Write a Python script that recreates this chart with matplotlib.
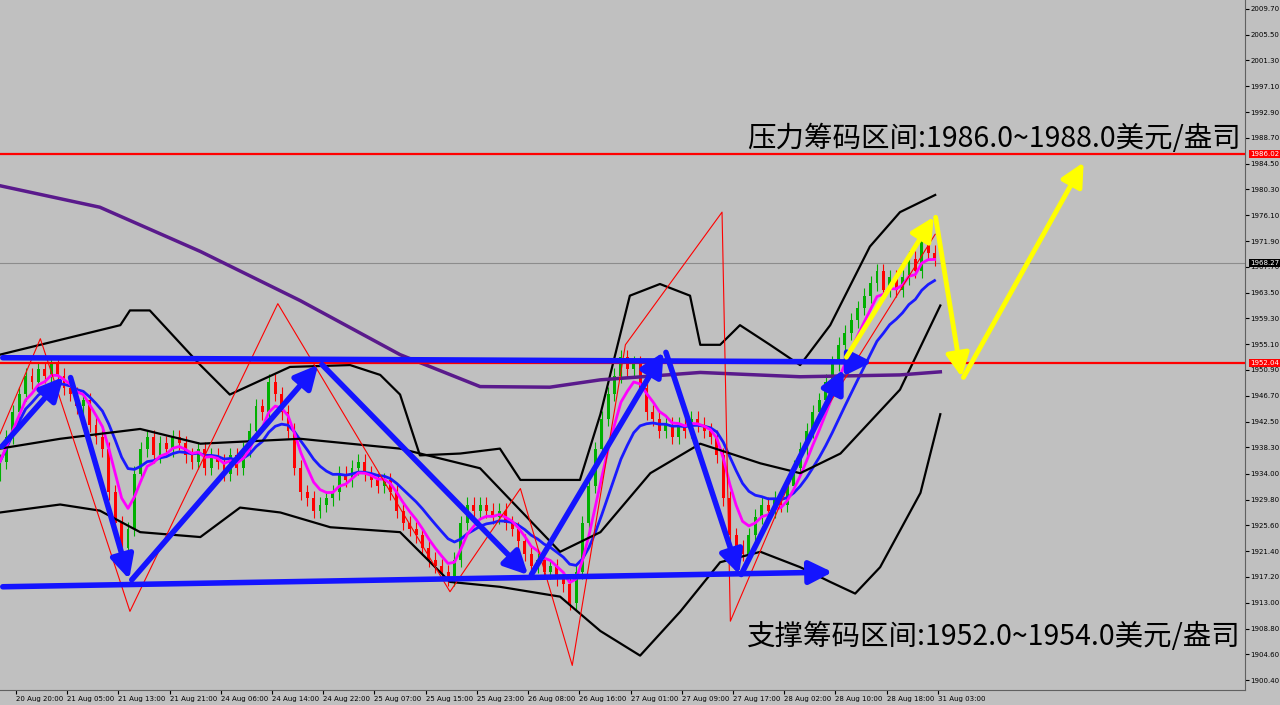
import matplotlib
matplotlib.use("Agg")
import matplotlib.pyplot as plt
import numpy as np
import pandas as pd

plt.rcParams['font.family'] = ['Noto Sans CJK SC', 'DejaVu Sans']

# hourly closes, one per bar
closes = [1936, 1940, 1944, 1947, 1950, 1949, 1951, 1950, 1952, 1950,
          1948, 1947, 1945, 1946, 1942, 1940, 1938, 1931, 1926, 1922,
          1925, 1934, 1938, 1940, 1937, 1939, 1938, 1940, 1939, 1937,
          1936, 1938, 1935, 1937, 1936, 1934, 1937, 1935, 1938, 1941,
          1945, 1944, 1949, 1947, 1944, 1941, 1935, 1931, 1930, 1928,
          1929, 1930, 1931, 1934, 1933, 1935, 1936, 1934, 1933, 1932,
          1933, 1931, 1928, 1926, 1925, 1924, 1922, 1920, 1919, 1918,
          1917, 1920, 1926, 1929, 1928, 1929, 1928, 1927, 1928, 1926,
          1925, 1923, 1921, 1919, 1920, 1918, 1919, 1917, 1916, 1913,
          1918, 1926, 1932, 1938, 1943, 1947, 1950, 1953, 1951, 1952,
          1948, 1944, 1943, 1941, 1942, 1940, 1942, 1941, 1943, 1942,
          1941, 1940, 1937, 1930, 1924, 1922, 1921, 1924, 1927, 1929,
          1928, 1930, 1929, 1932, 1935, 1938, 1941, 1944, 1946, 1949,
          1952, 1955, 1957, 1959, 1961, 1963, 1965, 1967, 1964, 1966,
          1964, 1966, 1969, 1967, 1972, 1970, 1969]
first_open = 1934

# bollinger-like envelopes (bar, price)
upper_x = [0, 9.4, 18.8, 20.3, 23.4, 31.3, 35.9, 45.3, 54.7, 59.4, 62.5, 65.6, 71.9, 78.1, 81.3, 90.6, 93.8, 98.4, 103.1, 107.8, 109.4, 112.5, 115.6, 120.3, 125, 129.7, 135.9, 140.6, 146.1]
upper_y = [1953.4, 1955.8, 1958.2, 1960.6, 1960.6, 1951.7, 1946.9, 1951.4, 1951.7, 1950.1, 1946.9, 1937.0, 1937.3, 1938.1, 1933.0, 1933.0, 1943.7, 1963.0, 1964.9, 1963.0, 1955.0, 1955.0, 1958.2, 1955.0, 1951.7, 1958.2, 1971.0, 1976.6, 1979.4]
mid_x = [0, 9.4, 21.9, 31.3, 46.9, 62.5, 75, 87.5, 93.8, 101.6, 109.4, 118.8, 125, 131.3, 140.6, 146.9]
mid_y = [1938.1, 1939.7, 1941.3, 1938.9, 1939.7, 1938.1, 1934.9, 1921.3, 1924.5, 1934.1, 1938.9, 1935.7, 1934.1, 1937.3, 1947.7, 1961.4]
lower_x = [0, 9.4, 15.6, 21.9, 31.3, 37.5, 43.8, 51.6, 62.5, 70.3, 78.1, 87.5, 93.8, 100, 106.3, 112.5, 118.8, 125, 129.7, 133.6, 137.5, 143.8, 146.9]
lower_y = [1927.7, 1929.0, 1928.0, 1924.5, 1923.7, 1928.5, 1927.7, 1925.3, 1924.5, 1916.4, 1915.6, 1914.0, 1908.4, 1904.4, 1911.6, 1919.6, 1921.3, 1918.8, 1916.4, 1914.5, 1918.8, 1930.9, 1943.7]
ma200_x = [0, 15.6, 31.3, 46.9, 62.5, 75, 85.9, 93.8, 109.4, 125, 140.6, 146.9]
ma200_y = [1980.9, 1977.4, 1970.2, 1962.2, 1953.4, 1948.2, 1948.1, 1949.3, 1950.5, 1949.8, 1950.1, 1950.6]

# thin red zigzag
zz_x = [0, 6.3, 20.3, 43.4, 70.3, 81.3, 89.4, 97.7, 112.8, 114.1, 126.6, 146.1]
zz_y = [1940.5, 1956.0, 1911.6, 1961.7, 1914.8, 1931.6, 1902.8, 1955.0, 1976.6, 1910.0, 1940.5, 1973.0]

# drawn arrows (bar, price)
blue_arrows = [((0, 1952.9), (136.7, 1952.2)),
               ((0, 1915.6), (130.5, 1918.0)),
               ((0, 1938.1), (10.2, 1950.1)),
               ((10.9, 1950.1), (20.3, 1916.4)),
               ((20.3, 1916.4), (50.0, 1952.1)),
               ((50.0, 1952.1), (82.8, 1917.2)),
               ((82.8, 1917.2), (103.9, 1954.2)),
               ((103.9, 1954.2), (115.6, 1917.2)),
               ((115.6, 1917.2), (132.0, 1951.4))]
yellow_arrows = [((132.0, 1952.6), (146.1, 1976.2)),
                 ((146.1, 1976.2), (150.3, 1949.3)),
                 ((150.3, 1949.3), (169.5, 1985.1))]

resistance = 1986.02
support = 1952.04
last_price = 1968.27
y_ticks = [2009.70, 2005.50, 2001.30, 1997.10, 1992.90, 1988.70, 1984.50, 1980.30,
           1976.10, 1971.90, 1967.70, 1963.50, 1959.30, 1955.10, 1950.90, 1946.70,
           1942.50, 1938.30, 1934.00, 1929.80, 1925.60, 1921.40, 1917.20, 1913.00,
           1908.80, 1904.60, 1900.40]
x_labels = ["20 Aug 20:00", "21 Aug 05:00", "21 Aug 13:00", "21 Aug 21:00", "24 Aug 06:00",
            "24 Aug 14:00", "24 Aug 22:00", "25 Aug 07:00", "25 Aug 15:00", "25 Aug 23:00",
            "26 Aug 08:00", "26 Aug 16:00", "27 Aug 01:00", "27 Aug 09:00", "27 Aug 17:00",
            "28 Aug 02:00", "28 Aug 10:00", "28 Aug 18:00", "31 Aug 03:00"]

bg = "#c0c0c0"
fig = plt.figure(figsize=(12.8, 7.05), dpi=100, facecolor=bg)
ax = fig.add_axes([0, 15 / 705, 1245 / 1280, 690 / 705], facecolor=bg)
ax.set_xlim(0, 194.5)
ax.set_ylim(1900.4 - 1.6, 2011.14)

c = np.array(closes, dtype=float)
o = np.concatenate([[first_open], c[:-1]])
idx = np.arange(len(c))
hi = np.maximum(o, c) + 1.2
lo = np.minimum(o, c) - 1.2
for i in idx:
    col = "#00b000" if c[i] >= o[i] else "#ff0000"
    ax.vlines(i, lo[i], hi[i], color=col, lw=0.8, zorder=2)
    ax.bar(i, max(abs(c[i] - o[i]), 0.3), bottom=min(o[i], c[i]), width=0.45,
           color=col, zorder=2)

s = pd.Series(c)
ax.plot(idx, s.ewm(span=12).mean(), color="#1a1aff", lw=2, zorder=3)
ax.plot(idx, s.ewm(span=5).mean(), color="#ff00ff", lw=2, zorder=3)

for xs, ys in [(upper_x, upper_y), (mid_x, mid_y), (lower_x, lower_y)]:
    ax.plot(xs, ys, color="black", lw=1.6, zorder=3)
ax.plot(ma200_x, ma200_y, color="#5a1a8c", lw=2.5, zorder=3)
ax.plot(zz_x, zz_y, color="#ff0000", lw=0.8, zorder=3)

ax.axhline(resistance, color="#ff0000", lw=1.6, zorder=4)
ax.axhline(support, color="#ff0000", lw=1.6, zorder=4)
ax.axhline(last_price, color="#8c8c8c", lw=0.8, zorder=1)

for (x0, y0), (x1, y1) in blue_arrows:
    ax.annotate("", xy=(x1, y1), xytext=(x0, y0), zorder=5,
                arrowprops=dict(arrowstyle="-|>,head_length=1.4,head_width=0.7",
                                color="#1414ff", lw=4))
for (x0, y0), (x1, y1) in yellow_arrows:
    ax.annotate("", xy=(x1, y1), xytext=(x0, y0), zorder=5,
                arrowprops=dict(arrowstyle="-|>,head_length=1.4,head_width=0.7",
                                color="#ffff00", lw=3.5))

ax.text(193.8, 1986.0, "压力筹码区间:1986.0~1988.0美元/盎司", fontsize=20.5,
        ha="right", va="bottom", color="black", zorder=6)
ax.text(193.8, 1907.5, "支撑筹码区间:1952.0~1954.0美元/盎司", fontsize=20.5,
        ha="right", va="center", color="black", zorder=6)

ax.yaxis.tick_right()
ax.set_yticks(y_ticks)
ax.set_yticklabels([f"{v:.2f}" for v in y_ticks], fontsize=5, family="DejaVu Sans")
ax.set_xticks([2.5 + 8 * k for k in range(len(x_labels))])
ax.set_xticklabels(x_labels, fontsize=5, ha="left", family="DejaVu Sans")
ax.tick_params(length=3, pad=1, colors="black")
for side in ["top", "left"]:
    ax.spines[side].set_visible(False)
ax.spines["right"].set_color("#606060")
ax.spines["bottom"].set_color("#606060")

for val, fc in [(resistance, "#ff0000"), (support, "#ff0000"), (last_price, "black")]:
    ax.text(1.004, (val - ax.get_ylim()[0]) / (ax.get_ylim()[1] - ax.get_ylim()[0]),
            f"{val:.2f}", transform=ax.transAxes, fontsize=5, color="white",
            va="center", ha="left", family="DejaVu Sans",
            bbox=dict(boxstyle="square,pad=0.15", fc=fc, ec="none"), zorder=7)

fig.savefig("out.png", dpi=100, facecolor=bg)
